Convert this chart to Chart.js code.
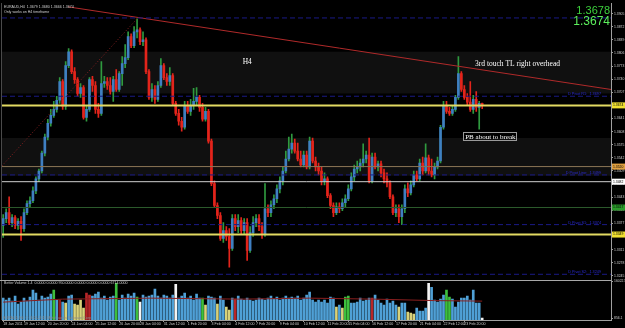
<!DOCTYPE html>
<html>
<head>
<meta charset="utf-8">
<script src="https://cdn.jsdelivr.net/npm/chart.js@4.4.1/dist/chart.umd.min.js"></script>
<style>
  html, body { margin: 0; padding: 0; background: #000; }
  #wrap { width: 625px; height: 328px; }
</style>
</head>
<body>
<div id="wrap"><canvas id="myChart" width="625" height="328"></canvas></div>
<script>
// EURAUD H4 candles, bar index 0 = 18 Jan 2011 00:00
const opens = [
  1.3372,1.3389,1.3404,1.3379,1.3392,1.3372,1.3382,1.3364,1.3404,1.3427,
  1.3434,1.3459,1.3489,1.3509,1.3554,1.3594,1.3629,1.3649,1.3664,1.3687,
  1.3734,1.3672,1.3774,1.3809,1.3759,1.3739,1.3704,1.3719,1.3644,1.3664,
  1.3739,1.3724,1.3664,1.3654,1.3729,1.3734,1.3724,1.3709,1.3739,1.3714,
  1.3754,1.3779,1.3794,1.3847,1.3824,1.3859,1.3864,1.3834,1.3839,1.3759,
  1.3694,1.3714,1.3689,1.3724,1.3774,1.3744,1.3734,1.3749,1.3679,1.3654,
  1.3634,1.3619,1.3674,1.3659,1.3674,1.3684,1.3694,1.3669,1.3639,1.3659,
  1.3584,1.3477,1.3422,1.3397,1.3339,1.3359,1.3344,1.3314,1.3389,1.3369,
  1.3384,1.3359,1.3379,1.3309,1.3354,1.3379,1.3389,1.3369,1.3349,1.3414,
  1.3404,1.3424,1.3439,1.3464,1.3484,1.3509,1.3539,1.3564,1.3579,1.3559,
  1.3539,1.3524,1.3549,1.3519,1.3584,1.3534,1.3519,1.3509,1.3484,1.3489,
  1.3447,1.3422,1.3404,1.3419,1.3414,1.3429,1.3439,1.3464,1.3494,1.3514,
  1.3519,1.3529,1.3539,1.3549,1.3484,1.3544,1.3519,1.3527,1.3504,1.3489,
  1.3479,1.3444,1.3404,1.3414,1.3394,1.3414,1.3464,1.3454,1.3474,1.3499,
  1.3489,1.3529,1.3509,1.3542,1.3509,1.3499,1.3519,1.3534,1.3619,1.3674,
  1.3659,1.3654,1.3664,1.3694,1.3754,1.3714,1.3694,1.3682,1.3664,1.3689,
  1.3669,1.3679
];
const highs = [
  1.3399,1.3414,1.3444,1.3399,1.3397,1.3389,1.3394,1.3414,1.3434,1.3444,
  1.3469,1.3494,1.3514,1.3559,1.3602,1.3639,1.3664,1.3684,1.3697,1.3744,
  1.3739,1.3784,1.3817,1.3814,1.3769,1.3744,1.3729,1.3724,1.3674,1.3744,
  1.3747,1.3734,1.3679,1.3784,1.3747,1.3744,1.3744,1.3747,1.3764,1.3759,
  1.3797,1.3827,1.3859,1.3854,1.3872,1.3892,1.3869,1.3859,1.3844,1.3764,
  1.3729,1.3724,1.3734,1.3792,1.3779,1.3754,1.3769,1.3754,1.3684,1.3664,
  1.3644,1.3684,1.3684,1.3689,1.3717,1.3719,1.3699,1.3679,1.3669,1.3664,
  1.3589,1.3484,1.3429,1.3404,1.3379,1.3369,1.3364,1.3399,1.3399,1.3399,
  1.3392,1.3389,1.3389,1.3369,1.3394,1.3399,1.3399,1.3379,1.3477,1.3424,
  1.3434,1.3449,1.3474,1.3494,1.3519,1.3559,1.3594,1.3602,1.3589,1.3579,
  1.3559,1.3559,1.3559,1.3594,1.3592,1.3544,1.3529,1.3519,1.3504,1.3494,
  1.3452,1.3429,1.3429,1.3429,1.3439,1.3449,1.3474,1.3504,1.3524,1.3534,
  1.3539,1.3577,1.3559,1.3592,1.3554,1.3554,1.3534,1.3534,1.3514,1.3504,
  1.3484,1.3449,1.3424,1.3424,1.3424,1.3474,1.3479,1.3484,1.3509,1.3509,
  1.3539,1.3544,1.3577,1.3549,1.3539,1.3529,1.3544,1.3624,1.3684,1.3684,
  1.3669,1.3674,1.3699,1.3797,1.3759,1.3724,1.3704,1.3734,1.3699,1.3709,
  1.3684,1.3680
];
const lows = [
  1.3342,1.3379,1.3374,1.3369,1.3364,1.3362,1.3334,1.3357,1.3399,1.3417,
  1.3429,1.3452,1.3482,1.3504,1.3547,1.3587,1.3622,1.3644,1.3657,1.3679,
  1.3664,1.3664,1.3769,1.3754,1.3729,1.3697,1.3694,1.3639,1.3634,1.3659,
  1.3709,1.3654,1.3644,1.3649,1.3719,1.3714,1.3702,1.3684,1.3709,1.3709,
  1.3724,1.3769,1.3789,1.3819,1.3819,1.3844,1.3827,1.3824,1.3754,1.3689,
  1.3684,1.3679,1.3684,1.3719,1.3739,1.3724,1.3724,1.3674,1.3649,1.3624,
  1.3609,1.3614,1.3654,1.3649,1.3664,1.3674,1.3659,1.3634,1.3634,1.3579,
  1.3472,1.3417,1.3389,1.3334,1.3329,1.3334,1.3267,1.3309,1.3359,1.3354,
  1.3349,1.3349,1.3284,1.3304,1.3344,1.3369,1.3359,1.3339,1.3344,1.3394,
  1.3394,1.3414,1.3429,1.3454,1.3474,1.3504,1.3534,1.3554,1.3554,1.3534,
  1.3519,1.3519,1.3514,1.3514,1.3529,1.3509,1.3499,1.3474,1.3474,1.3442,
  1.3414,1.3394,1.3399,1.3404,1.3409,1.3419,1.3434,1.3459,1.3484,1.3504,
  1.3509,1.3519,1.3529,1.3479,1.3479,1.3514,1.3509,1.3494,1.3479,1.3469,
  1.3439,1.3399,1.3394,1.3379,1.3374,1.3404,1.3444,1.3449,1.3469,1.3484,
  1.3484,1.3499,1.3504,1.3499,1.3494,1.3489,1.3514,1.3529,1.3614,1.3654,
  1.3649,1.3649,1.3659,1.3689,1.3709,1.3689,1.3674,1.3659,1.3654,1.3659,
  1.3614,1.3666
];
const closes = [
  1.3389,1.3404,1.3379,1.3392,1.3372,1.3382,1.3364,1.3404,1.3427,1.3434,
  1.3459,1.3489,1.3509,1.3554,1.3594,1.3629,1.3649,1.3664,1.3687,1.3734,
  1.3672,1.3774,1.3809,1.3759,1.3739,1.3704,1.3719,1.3644,1.3664,1.3739,
  1.3724,1.3664,1.3654,1.3729,1.3734,1.3724,1.3709,1.3739,1.3714,1.3754,
  1.3779,1.3794,1.3847,1.3824,1.3859,1.3864,1.3834,1.3839,1.3759,1.3694,
  1.3714,1.3689,1.3724,1.3774,1.3744,1.3734,1.3749,1.3679,1.3654,1.3634,
  1.3619,1.3674,1.3659,1.3674,1.3684,1.3694,1.3669,1.3639,1.3659,1.3584,
  1.3477,1.3422,1.3397,1.3339,1.3359,1.3344,1.3314,1.3389,1.3369,1.3384,
  1.3359,1.3379,1.3309,1.3354,1.3379,1.3389,1.3369,1.3349,1.3414,1.3404,
  1.3424,1.3439,1.3464,1.3484,1.3509,1.3539,1.3564,1.3579,1.3559,1.3539,
  1.3524,1.3549,1.3519,1.3584,1.3534,1.3519,1.3509,1.3484,1.3489,1.3447,
  1.3422,1.3404,1.3419,1.3414,1.3429,1.3439,1.3464,1.3494,1.3514,1.3519,
  1.3529,1.3539,1.3549,1.3484,1.3544,1.3519,1.3527,1.3504,1.3489,1.3479,
  1.3444,1.3404,1.3414,1.3394,1.3414,1.3464,1.3454,1.3474,1.3499,1.3489,
  1.3529,1.3509,1.3542,1.3509,1.3499,1.3519,1.3534,1.3619,1.3674,1.3659,
  1.3654,1.3664,1.3694,1.3754,1.3714,1.3694,1.3682,1.3664,1.3689,1.3669,
  1.3679,1.3674
];

// Better Volume panel
const volumes = [
  8800,8000,8800,7600,9600,6400,7200,8800,7600,9200,
  12000,10800,8000,9600,8800,9200,10400,12000,8000,8000,
  7200,6800,9600,10000,6400,6000,8000,4800,10800,10000,
  9600,10400,11200,8800,9600,8000,9200,9600,14800,8000,
  10000,8800,10400,9600,10800,9200,7200,10000,9200,9600,
  10000,12400,9600,8800,10000,9600,8800,10000,14400,8800,
  9600,10800,8800,9600,8000,10400,8800,8800,6000,9600,
  9200,8800,6400,9600,8000,5200,4000,8800,8400,9600,
  8400,8000,8800,8000,7600,8000,8800,8400,8000,8800,
  9600,8400,9200,8000,8800,9600,8800,9200,8800,9600,
  8000,8800,10000,11200,8000,7200,8000,7200,8000,6800,
  9200,8800,5200,6000,4800,9200,9600,6800,6800,7200,
  8800,7600,8000,8800,8800,10000,8000,6800,6000,8400,
  6800,7600,6000,5200,6800,6800,3200,2800,2400,4800,
  3600,3600,4800,14800,13200,8000,7200,8400,10000,12000,
  9200,8400,5200,7200,8800,8800,9600,8000,12000,6800,
  6800,800
];
// B normal, G green, R red, D dark red, Y low, W white
const volTypes =
  'BBBBBBBBBB' + 'BBBBBBBGBD' + 'BYBBYYYYRR' + 'BBBBBBBBGB' + 'BBBBBGWBBB' +
  'BBBBBBBBWB' + 'BBBBBBBGYB' + 'BBYBBYYBRB' + 'BBBBBBBBBB' + 'BBBBBBBBBB' +
  'BBBBBBBBBB' + 'BBYBYGGBBB' + 'BBBBRBBBBB' + 'BBBYBBYYYB' + 'BBBWBBBBBG' +
  'GBBBBBBBBB' + 'BW';
const volMAIdx = [0, 20, 50, 80, 103, 125, 145, 161];
const volMA = [7200, 8400, 8800, 8400, 8800, 8400, 7800, 7600];

// axis labels
const dateTickIdx = [0,7,15,23,31,39,46,54,62,70,78,85,93,101,109,116,124,132,140,148,155];
const dateLabels = ['18 Jan 2011','19 Jan 12:00','20 Jan 20:00','24 Jan 04:00','25 Jan 12:00',
  '26 Jan 20:00','28 Jan 04:00','31 Jan 12:00','1 Feb 20:00','3 Feb 04:00','4 Feb 12:00',
  '7 Feb 20:00','9 Feb 04:00','10 Feb 12:00','11 Feb 20:00','15 Feb 04:00','16 Feb 12:00',
  '17 Feb 20:00','21 Feb 04:00','22 Feb 12:00','23 Feb 20:00'];
const priceTicks = [1.3905,1.3872,1.3839,1.3806,1.3773,1.3740,1.3707,1.3641,1.3608,1.3575,
  1.3542,1.3509,1.3476,1.3443,1.3410,1.3377,1.3344,1.3311,1.3278,1.3245];

// drawn objects
const pivotPrices = [1.3894, 1.3697, 1.3499, 1.3374, 1.3249];
const pivotNames = ['', 'D Pivot R1', 'D Pivot Line', 'D Pivot S1', 'D Pivot S2'];
const levelPrices = [1.3674, 1.3520, 1.3482, 1.3417, 1.3349];
const levelKinds = ['yellow', 'tan', 'white', 'green', 'yellow'];
const trendX = [21.8, 204.3];
const trendY = [1.3922, 1.3714];
const dotX = [-0.4, 45];
const dotY = [1.3522, 1.3892];
const bandTops = [1.3809, 1.3592];
const bandBottoms = [1.3704, 1.3497];

const X_MIN = -0.4, X_MAX = 204.3;

const levelColors = { yellow: '#e2da62', tan: '#8c7656', white: '#d0d0d0', green: '#2c5a2c' };
const levelLabelBg = { yellow: '#f0e030', tan: '#e0a040', white: '#ffffff', green: '#2a9a2a' };
const volColors = { B: '#4f a0d6'.replace(' ', ''), G: '#3dbf3d', R: '#b82628', D: '#8e1c1c', Y: '#d8d27a', W: '#f4f4f4' };

const isUp = closes.map((c, i) => c >= opens[i]);

const datasets = [];
datasets.push({
  type: 'bar', data: closes.map((c, i) => ({ x: i, y: [opens[i], c] })),
  backgroundColor: isUp.map(u => u ? '#3f7fc2' : '#e3241b'),
  barThickness: 2, grouped: false, minBarLength: 1, yAxisID: 'y', order: 1
});
datasets.push({
  type: 'bar', data: closes.map((c, i) => ({ x: i, y: [lows[i], highs[i]] })),
  backgroundColor: isUp.map(u => u ? '#2f9a3f' : '#e3241b'),
  barThickness: 1, grouped: false, yAxisID: 'y', order: 2
});
datasets.push({
  type: 'bar', data: volumes.map((v, i) => ({ x: i, y: v })),
  backgroundColor: volumes.map((v, i) => volColors[volTypes[i]]),
  barThickness: 2, grouped: false, yAxisID: 'yVol', order: 2
});
datasets.push({
  type: 'line', data: volMAIdx.map((x, i) => ({ x: x, y: volMA[i] })),
  borderColor: '#8b1f1f', borderWidth: 1, pointRadius: 0, yAxisID: 'yVol', order: 0
});
pivotPrices.forEach(p => datasets.push({
  type: 'line', data: [{ x: X_MIN, y: p }, { x: X_MAX, y: p }],
  borderColor: '#1a1a86', borderWidth: 1, borderDash: [5, 3], pointRadius: 0, yAxisID: 'y', order: 0
}));
levelPrices.forEach((p, i) => datasets.push({
  type: 'line', data: [{ x: X_MIN, y: p }, { x: X_MAX, y: p }],
  borderColor: levelColors[levelKinds[i]], borderWidth: levelKinds[i] === 'yellow' ? 2 : 1,
  pointRadius: 0, yAxisID: 'y', order: 0
}));
datasets.push({
  type: 'line', data: trendX.map((x, i) => ({ x: x, y: trendY[i] })),
  borderColor: '#b02a2a', borderWidth: 1, pointRadius: 0, yAxisID: 'y', order: 0
});
datasets.push({
  type: 'line', data: dotX.map((x, i) => ({ x: x, y: dotY[i] })),
  borderColor: '#8a2222', borderWidth: 1, borderDash: [1, 2], pointRadius: 0, yAxisID: 'y', order: 0
});

const mt4 = {
  id: 'mt4',
  beforeDraw(chart) {
    const { ctx, width, height } = chart;
    ctx.save();
    ctx.fillStyle = '#000';
    ctx.fillRect(0, 0, width, height);
    ctx.restore();
  },
  beforeDatasetsDraw(chart) {
    const { ctx, chartArea, scales } = chart;
    const y = scales.y;
    ctx.save();
    ctx.fillStyle = '#101010';
    bandTops.forEach((t, i) => {
      const a = y.getPixelForValue(t), b = y.getPixelForValue(bandBottoms[i]);
      ctx.fillRect(chartArea.left, a, chartArea.right - chartArea.left, b - a);
    });
    // left frame
    ctx.fillStyle = '#4a4a4a';
    ctx.fillRect(chartArea.left - 1, chartArea.top, 1, chartArea.bottom - chartArea.top);
    ctx.restore();
  },
  afterDatasetsDraw(chart) {
    const { ctx, chartArea, scales } = chart;
    const x = scales.x, y = scales.y, yv = scales.yVol;
    ctx.save();

    // panel separator
    ctx.fillStyle = '#a8a8a8';
    ctx.fillRect(0, Math.round(y.bottom) + 1, chartArea.right, 1);

    // header
    ctx.fillStyle = '#d0d0d0';
    ctx.font = '3.6px "Liberation Sans"';
    ctx.textBaseline = 'top';
    ctx.textAlign = 'left';
    ctx.fillText('EURAUD,H4  1.3679 1.3680 1.3666 1.3674', chartArea.left + 2, chartArea.top + 2);
    ctx.fillText('Only works on H4 timeframe', chartArea.left + 2, chartArea.top + 7);
    ctx.fillText('Better Volume 1.4  0.0000 0.0000 950.0000 0.0000 0.0000 0.0000 6714.0000', chartArea.left + 2, yv.top + 2);
    ctx.fillStyle = '#8a8a8a';
    ctx.fillText('EURAUD,H4  \u00a9 2001-2011 MetaQuotes Software Corp.', chartArea.left + 1, yv.bottom - 4);

    // big green price readout (ask / bid)
    ctx.textAlign = 'right';
    ctx.textBaseline = 'alphabetic';
    ctx.fillStyle = '#3ccf3c';
    ctx.font = '11px "Liberation Sans"';
    ctx.fillText((closes[closes.length - 1] + 0.0004).toFixed(4), chartArea.right - 1, chartArea.top + 11);
    ctx.fillStyle = '#5cf05c';
    ctx.font = '12px "Liberation Sans"';
    ctx.fillText(closes[closes.length - 1].toFixed(4), chartArea.right - 1, chartArea.top + 22);

    // pivot labels
    ctx.font = '3.8px "Liberation Sans"';
    ctx.fillStyle = '#2a2ad0';
    pivotPrices.forEach((p, i) => {
      if (!pivotNames[i]) return;
      ctx.fillText(pivotNames[i] + ':  ' + p.toFixed(4), chartArea.right - 10, y.getPixelForValue(p) - 1);
    });

    // annotations
    ctx.fillStyle = '#ffffff';
    ctx.textAlign = 'left';
    ctx.textBaseline = 'middle';
    ctx.font = '7.5px "Liberation Serif"';
    ctx.fillText('H4', x.getPixelForValue(80.5), y.getPixelForValue(1.3784));
    ctx.fillText('3rd touch TL right overhead', x.getPixelForValue(158.6), y.getPixelForValue(1.3779));
    const pbX = x.getPixelForValue(155.3), pbY = y.getPixelForValue(1.3594);
    ctx.font = '7px "Liberation Serif"';
    const w = ctx.measureText('PB about to break').width;
    ctx.fillText('PB about to break', pbX, pbY);
    ctx.strokeStyle = '#9a9a9a';
    ctx.lineWidth = 1;
    ctx.strokeRect(Math.round(pbX) - 1.5, Math.round(pbY) - 4.5, Math.round(w) + 3, 8);

    // price axis tags for levels
    ctx.font = '3.4px "Liberation Sans"';
    ctx.textBaseline = 'middle';
    levelPrices.forEach((p, i) => {
      const py = y.getPixelForValue(p);
      ctx.fillStyle = levelLabelBg[levelKinds[i]];
      ctx.fillRect(y.left + 1, py - 3, 13, 6);
      ctx.fillStyle = '#000';
      ctx.fillText(p.toFixed(4), y.left + 2, py);
    });
    ctx.restore();
  }
};

new Chart(document.getElementById('myChart'), {
  type: 'bar',
  data: { datasets: datasets },
  plugins: [mt4],
  options: {
    responsive: false,
    animation: false,
    devicePixelRatio: 1,
    events: [],
    layout: { padding: { left: 2, top: 1, right: 0, bottom: 0 } },
    plugins: { legend: { display: false }, tooltip: { enabled: false } },
    scales: {
      x: {
        type: 'linear', min: X_MIN, max: X_MAX, offset: false,
        grid: { display: true, drawOnChartArea: false, drawTicks: true, tickLength: 2, color: '#a0a0a0', offset: false },
        border: { color: '#a0a0a0' },
        afterBuildTicks: s => { s.ticks = dateTickIdx.map(v => ({ value: v })); },
        afterFit: s => { s.height = 8; },
        ticks: {
          autoSkip: false, maxRotation: 0, align: 'start', padding: 0,
          color: '#cfcfcf', font: { size: 3.6, family: 'Liberation Sans' },
          callback: (v, i) => dateLabels[i]
        }
      },
      y: {
        type: 'linear', position: 'right', stack: 'win', stackWeight: 278,
        min: 1.32365, max: 1.39315,
        grid: { display: true, drawOnChartArea: false, drawTicks: true, tickLength: 2, color: '#a0a0a0' },
        border: { color: '#a0a0a0' },
        afterBuildTicks: s => { s.ticks = priceTicks.map(v => ({ value: v })); },
        afterFit: s => { s.width = 14; },
        ticks: {
          padding: 1, color: '#cfcfcf', font: { size: 3.4, family: 'Liberation Sans' },
          callback: v => v.toFixed(4)
        }
      },
      yVol: {
        type: 'linear', position: 'right', stack: 'win', stackWeight: 41,
        min: 0, max: 16400,
        grid: { display: true, drawOnChartArea: false, drawTicks: true, tickLength: 2, color: '#a0a0a0' },
        border: { color: '#a0a0a0' },
        afterBuildTicks: s => { s.ticks = [{ value: 15600 }, { value: 600 }]; },
        afterFit: s => { s.width = 14; },
        ticks: {
          padding: 1, color: '#cfcfcf', font: { size: 3.4, family: 'Liberation Sans' },
          callback: v => v === 15600 ? '16022.5' : '856.1'
        }
      }
    }
  }
});
</script>
</body>
</html>
